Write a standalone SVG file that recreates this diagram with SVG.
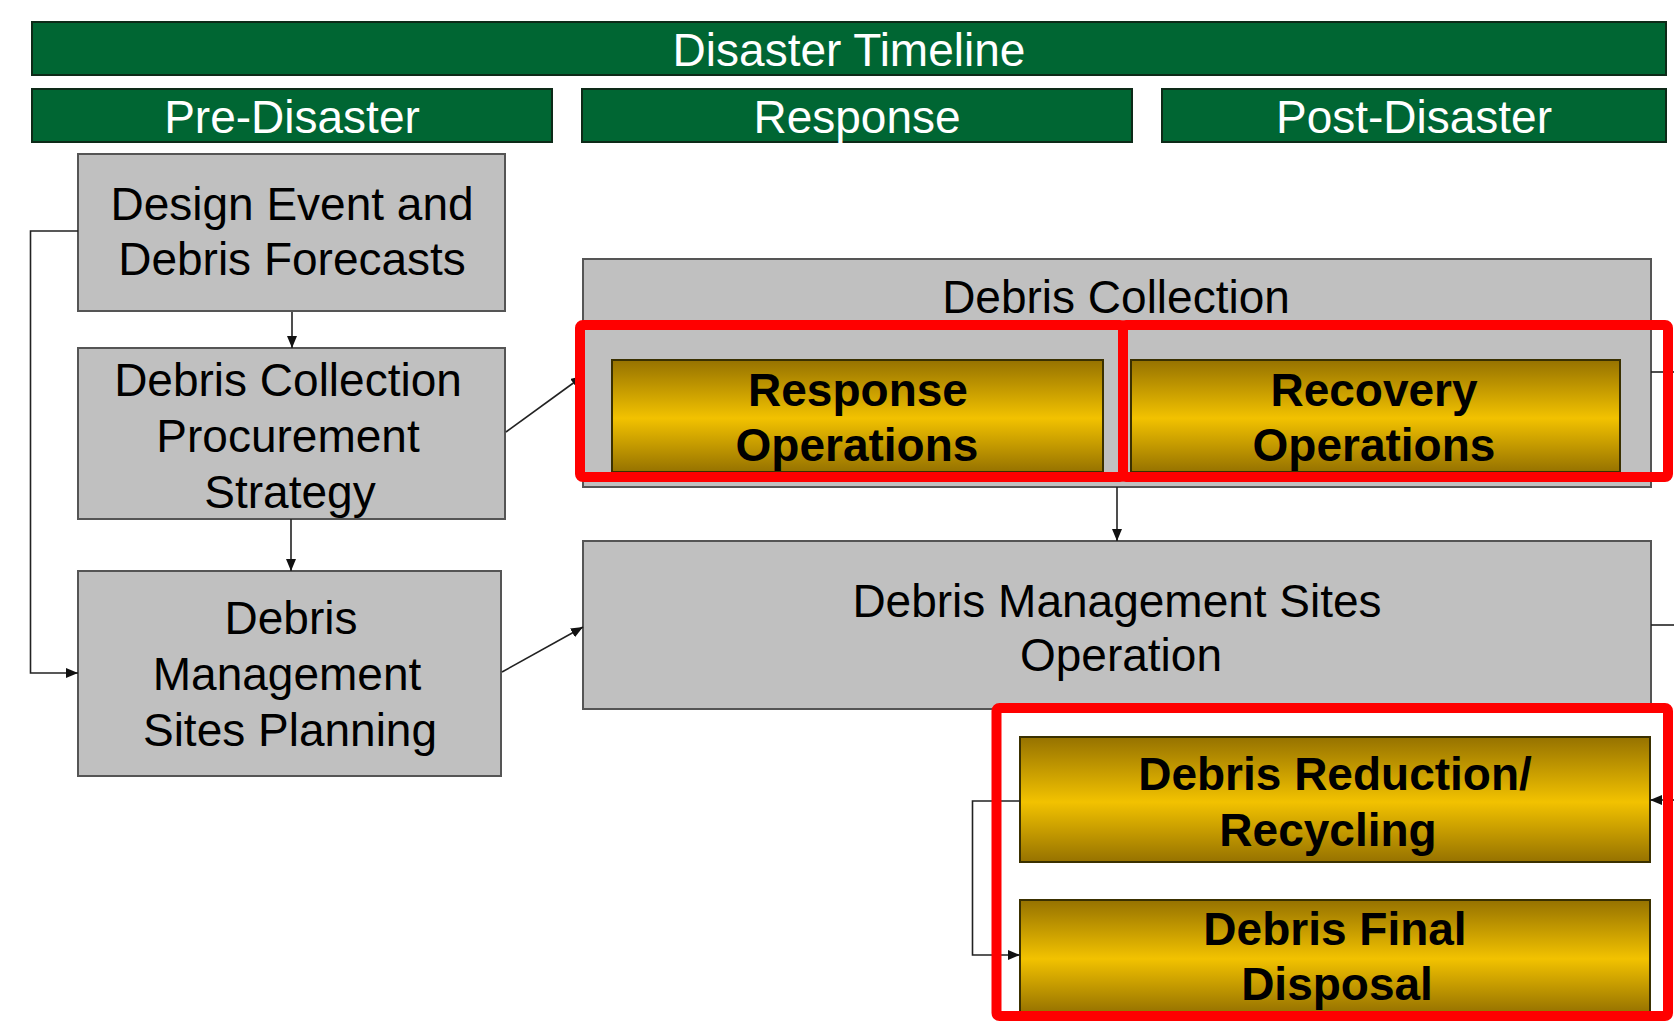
<svg xmlns="http://www.w3.org/2000/svg" width="1674" height="1021" viewBox="0 0 1674 1021">
<style>
.green{fill:#006633;stroke:#0d2a18;stroke-width:2}
.gray{fill:#c0c0c0;stroke:#555555;stroke-width:2}
.gold{fill:url(#gold);stroke:#3a3000;stroke-width:2}
.hl{fill:none;stroke:#ff0000;stroke-width:10}
.conn{fill:none;stroke:#222222;stroke-width:1.6}
text{font-family:"Liberation Sans",Arial,sans-serif;font-size:46px;text-anchor:middle}
.wt{fill:#ffffff}
.bt{fill:#000000}
.bold{font-weight:bold}
</style>
<defs>
<linearGradient id="gold" x1="0" y1="0" x2="0" y2="1">
<stop offset="0" stop-color="#967200"/>
<stop offset="0.52" stop-color="#f2c200"/>
<stop offset="1" stop-color="#967200"/>
</linearGradient>
<marker id="arr" markerUnits="userSpaceOnUse" markerWidth="13" markerHeight="11" refX="12" refY="5" orient="auto">
<path d="M0,0 L12,5 L0,10 z" fill="#111111"/>
</marker>
</defs>
<rect width="1674" height="1021" fill="#ffffff"/>

<g id="timeline"><rect class="green" x="32" y="22" width="1634" height="53"/><text class="wt" x="849" y="66">Disaster Timeline</text></g>
<g id="pre-disaster"><rect class="green" x="32" y="89" width="520" height="53"/><text class="wt" x="292" y="133">Pre-Disaster</text></g>
<g id="response"><rect class="green" x="582" y="89" width="550" height="53"/><text class="wt" x="857" y="133">Response</text></g>
<g id="post-disaster"><rect class="green" x="1162" y="89" width="504" height="53"/><text class="wt" x="1414" y="133">Post-Disaster</text></g>

<g id="design-event"><rect class="gray" x="78" y="154" width="427" height="157"/><text class="bt" x="292" y="220">Design Event and</text><text class="bt" x="292" y="275">Debris Forecasts</text></g>
<g id="procurement"><rect class="gray" x="78" y="348" width="427" height="171"/><text class="bt" x="288" y="396">Debris Collection</text><text class="bt" x="288" y="452">Procurement</text><text class="bt" x="290" y="508">Strategy</text></g>
<g id="dms-planning"><rect class="gray" x="78" y="571" width="423" height="205"/><text class="bt" x="291" y="634">Debris</text><text class="bt" x="287" y="690">Management</text><text class="bt" x="290" y="746">Sites Planning</text></g>

<g id="debris-collection"><rect class="gray" x="583" y="259" width="1068" height="228"/><text class="bt" x="1116" y="313">Debris Collection</text></g>
<g id="response-ops"><rect class="gold" x="612" y="360" width="491" height="112"/><text class="bt bold" x="858" y="406">Response</text><text class="bt bold" x="857" y="461">Operations</text></g>
<g id="recovery-ops"><rect class="gold" x="1131" y="360" width="489" height="112"/><text class="bt bold" x="1374" y="406">Recovery</text><text class="bt bold" x="1374" y="461">Operations</text></g>

<g id="dms-operation"><rect class="gray" x="583" y="541" width="1068" height="168"/><text class="bt" x="1117" y="617">Debris Management Sites</text><text class="bt" x="1121" y="671">Operation</text></g>
<g id="reduction"><rect class="gold" x="1020" y="737" width="630" height="125"/><text class="bt bold" x="1335" y="790">Debris Reduction/</text><text class="bt bold" x="1328" y="846">Recycling</text></g>
<g id="final-disposal"><rect class="gold" x="1020" y="900" width="630" height="113"/><text class="bt bold" x="1335" y="945">Debris Final</text><text class="bt bold" x="1337" y="1000">Disposal</text></g>

<g id="connectors">
<path class="conn" d="M292,312 L292,348" marker-end="url(#arr)"/>
<path class="conn" d="M291,519 L291,571" marker-end="url(#arr)"/>
<path class="conn" d="M78,231 L30.5,231 L30.5,673 L78,673" marker-end="url(#arr)"/>
<path class="conn" d="M506,432 L583,376" marker-end="url(#arr)"/>
<path class="conn" d="M502,672 L583,627" marker-end="url(#arr)"/>
<path class="conn" d="M1117,487 L1117,541" marker-end="url(#arr)"/>
<path class="conn" d="M1651,372 L1680,372"/>
<path class="conn" d="M1651,625 L1680,625"/>
<path class="conn" d="M1680,800 L1650,800" marker-end="url(#arr)"/>
<path class="conn" d="M1020,801 L972.5,801 L972.5,955 L1020,955" marker-end="url(#arr)"/>
</g>

<g id="highlights">
<rect class="hl" x="580" y="325" width="543" height="152" rx="3"/>
<rect class="hl" x="1123" y="325" width="545" height="152" rx="3"/>
<rect class="hl" x="996.5" y="708" width="671.5" height="308" rx="3"/>
</g>
</svg>
